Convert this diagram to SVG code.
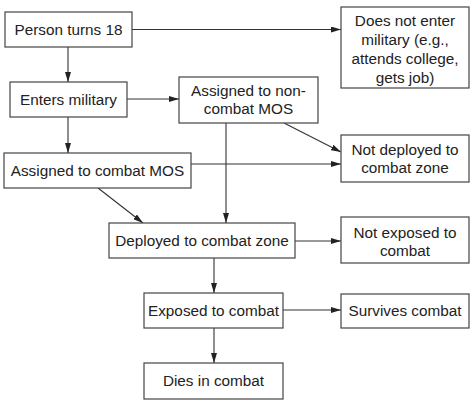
<svg xmlns="http://www.w3.org/2000/svg" width="474" height="404" viewBox="0 0 474 404">
<style>
.box{fill:#fff;stroke:#444;stroke-width:1.2}
.t{font-family:"Liberation Sans",Arial,sans-serif;font-size:15.3px;fill:#222;text-anchor:middle}
.c{stroke:#333;stroke-width:1.1;fill:none;marker-end:url(#ah)}
</style>
<defs>
<marker id="ah" viewBox="0 0 10 6" refX="10" refY="3" markerWidth="10" markerHeight="6" markerUnits="userSpaceOnUse" orient="auto">
<path d="M0,0 L10,3 L0,6 z" fill="#222"/>
</marker>
</defs>
<rect width="474" height="404" fill="#fff"/>
<g id="connectors">
<line class="c" x1="132" y1="29.5" x2="341" y2="29.5"/>
<line class="c" x1="68" y1="47" x2="68" y2="82"/>
<line class="c" x1="68" y1="117" x2="68" y2="153"/>
<line class="c" x1="127" y1="99" x2="179" y2="99"/>
<line class="c" x1="284" y1="123" x2="341" y2="152"/>
<line class="c" x1="191" y1="164" x2="341" y2="164"/>
<line class="c" x1="226" y1="123" x2="226" y2="223"/>
<line class="c" x1="98" y1="188" x2="143" y2="223"/>
<line class="c" x1="295" y1="241" x2="341" y2="241"/>
<line class="c" x1="214" y1="258" x2="214" y2="293"/>
<line class="c" x1="283" y1="310" x2="341" y2="310"/>
<line class="c" x1="214" y1="328" x2="214" y2="363"/>
</g>
<g id="n1"><rect class="box" x="5" y="12" width="127" height="35"/><text class="t" x="68.5" y="35">Person turns 18</text></g>
<g id="n2"><rect class="box" x="341" y="7" width="128" height="81"/><text class="t" x="405" y="25.5">Does not enter</text><text class="t" x="405" y="44.5">military (e.g.,</text><text class="t" x="405" y="63.5">attends college,</text><text class="t" x="405" y="82.5">gets job)</text></g>
<g id="n3"><rect class="box" x="10" y="82" width="117" height="35"/><text class="t" x="68.5" y="104.5">Enters military</text></g>
<g id="n4"><rect class="box" x="179" y="77" width="139" height="46"/><text class="t" x="248.5" y="95.5">Assigned to non-</text><text class="t" x="248.5" y="113.5">combat MOS</text></g>
<g id="n5"><rect class="box" x="4" y="153" width="187" height="35"/><text class="t" x="97.5" y="176">Assigned to combat MOS</text></g>
<g id="n6"><rect class="box" x="341" y="135" width="128" height="47"/><text class="t" x="405" y="154.5">Not deployed to</text><text class="t" x="405" y="172.5">combat zone</text></g>
<g id="n7"><rect class="box" x="109" y="223" width="186" height="35"/><text class="t" x="202" y="246">Deployed to combat zone</text></g>
<g id="n8"><rect class="box" x="341" y="217" width="128" height="46"/><text class="t" x="405" y="237.5">Not exposed to</text><text class="t" x="405" y="255.5">combat</text></g>
<g id="n9"><rect class="box" x="144" y="293" width="139" height="35"/><text class="t" x="213.5" y="316">Exposed to combat</text></g>
<g id="n10"><rect class="box" x="341" y="294" width="128" height="34"/><text class="t" x="405" y="316">Survives combat</text></g>
<g id="n11"><rect class="box" x="144" y="363" width="139" height="36"/><text class="t" x="213.5" y="386">Dies in combat</text></g>
</svg>
